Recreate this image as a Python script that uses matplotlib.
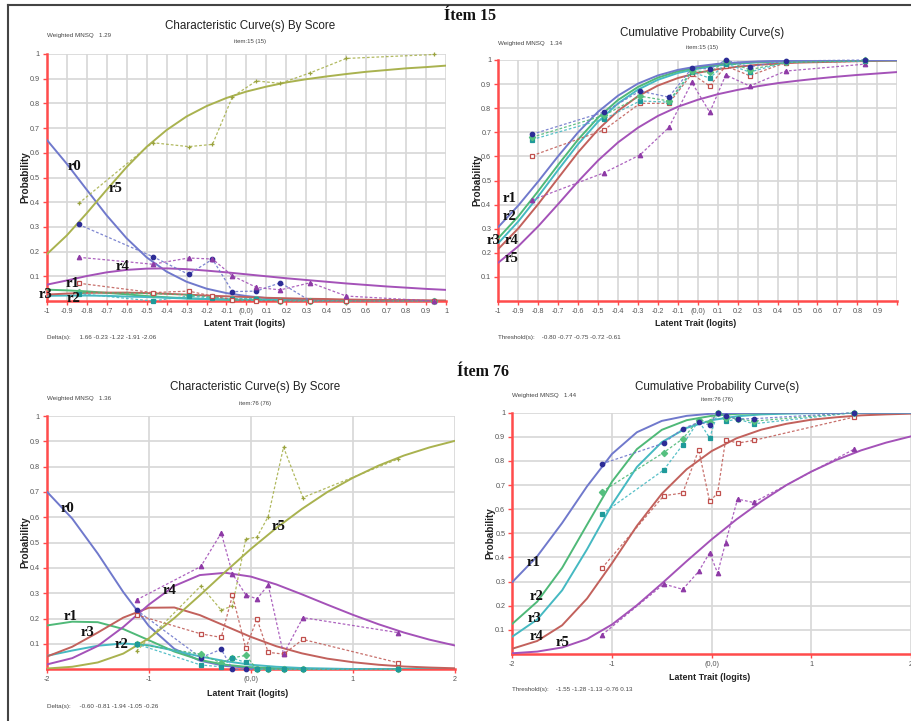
import matplotlib
matplotlib.use("Agg")
import matplotlib.pyplot as plt
from matplotlib.lines import Line2D

W, H = 912, 721
NARROW = ["Liberation Sans Narrow", "Liberation Sans", "DejaVu Sans"]
SERIF = ["Liberation Serif", "DejaVu Serif"]

# ---------------------------------------------------------------- data
# Item 15 : model curves on a 0.1-logit grid
theta15 = [-1.0, -0.9, -0.8, -0.7, -0.6, -0.5, -0.4, -0.3, -0.2, -0.1, 0.0,
           0.1, 0.2, 0.3, 0.4, 0.5, 0.6, 0.7, 0.8, 0.9, 1.0]
ccc15_r0 = [0.653, 0.556, 0.451, 0.347, 0.254, 0.177, 0.119, 0.078, 0.050, 0.032, 0.020,
            0.012, 0.008, 0.005, 0.003, 0.002, 0.001, 0.001, 0.000, 0.000, 0.000]
ccc15_r1 = [0.046, 0.043, 0.039, 0.033, 0.027, 0.020, 0.015, 0.011, 0.008, 0.005, 0.004,
            0.003, 0.002, 0.001, 0.001, 0.001, 0.000, 0.000, 0.000, 0.000, 0.000]
ccc15_r2 = [0.021, 0.022, 0.022, 0.021, 0.018, 0.016, 0.013, 0.010, 0.008, 0.006, 0.005,
            0.004, 0.003, 0.002, 0.002, 0.001, 0.001, 0.001, 0.000, 0.000, 0.000]
ccc15_r3 = [0.026, 0.030, 0.033, 0.034, 0.034, 0.032, 0.029, 0.026, 0.022, 0.019, 0.016,
            0.013, 0.011, 0.009, 0.008, 0.006, 0.005, 0.004, 0.004, 0.003, 0.002]
ccc15_r4 = [0.066, 0.083, 0.101, 0.116, 0.126, 0.131, 0.132, 0.129, 0.123, 0.116, 0.108,
            0.100, 0.092, 0.085, 0.078, 0.071, 0.065, 0.059, 0.054, 0.049, 0.045]
ccc15_r5 = [0.189, 0.265, 0.355, 0.450, 0.542, 0.624, 0.692, 0.747, 0.789, 0.822, 0.848,
            0.868, 0.885, 0.898, 0.909, 0.919, 0.928, 0.935, 0.942, 0.947, 0.953]

cum15_r1 = [0.307, 0.396, 0.496, 0.601, 0.700, 0.785, 0.852, 0.902, 0.936, 0.959, 0.974,
            0.984, 0.990, 0.994, 0.996, 0.998, 0.998, 0.999, 0.999, 1.000, 1.000]
cum15_r2 = [0.261, 0.351, 0.456, 0.565, 0.670, 0.761, 0.834, 0.888, 0.927, 0.953, 0.970,
            0.981, 0.988, 0.992, 0.995, 0.997, 0.998, 0.999, 0.999, 0.999, 0.999]
cum15_r3 = [0.240, 0.330, 0.434, 0.544, 0.651, 0.744, 0.820, 0.877, 0.918, 0.946, 0.964,
            0.977, 0.985, 0.990, 0.993, 0.995, 0.997, 0.998, 0.998, 0.999, 0.999]
cum15_r4 = [0.216, 0.301, 0.402, 0.510, 0.617, 0.711, 0.789, 0.850, 0.894, 0.925, 0.947,
            0.962, 0.972, 0.980, 0.985, 0.989, 0.991, 0.993, 0.995, 0.996, 0.997]
cum15_r5 = [0.159, 0.227, 0.310, 0.402, 0.496, 0.583, 0.658, 0.719, 0.768, 0.806, 0.835,
            0.858, 0.876, 0.891, 0.904, 0.914, 0.923, 0.931, 0.938, 0.944, 0.950]

# Item 15 : observed proportions
obs15_x = [-0.84, -0.47, -0.29, -0.17, -0.07, 0.05, 0.17, 0.32, 0.50, 0.94]
obs15_r0 = [0.310, 0.180, 0.108, 0.169, 0.038, 0.040, 0.074, 0.000, 0.000, 0.000]
obs15_r1 = [0.035, 0.030, 0.025, 0.015, 0.008, 0.008, 0.000, 0.000, 0.000, 0.000]
obs15_r2 = [0.030, 0.000, 0.020, 0.012, 0.010, 0.010, 0.000, 0.000, 0.000, 0.000]
obs15_r3 = [0.072, 0.034, 0.040, 0.020, 0.005, 0.000, 0.000, 0.000, 0.000, 0.000]
obs15_r4 = [0.177, 0.149, 0.174, 0.170, 0.102, 0.055, 0.045, 0.074, 0.020, 0.000]
obs15_r5 = [0.395, 0.641, 0.625, 0.634, 0.827, 0.891, 0.881, 0.924, 0.982, 0.998]

obsc15_x = [-0.83, -0.47, -0.29, -0.145, -0.03, 0.06, 0.14, 0.26, 0.44, 0.84]
obsc15_r1 = [0.692, 0.784, 0.871, 0.846, 0.966, 0.963, 1.000, 0.972, 0.996, 1.000]
obsc15_r2 = [0.680, 0.770, 0.850, 0.830, 0.955, 0.950, 0.995, 0.960, 0.990, 0.998]
obsc15_r3 = [0.670, 0.755, 0.830, 0.825, 0.950, 0.925, 0.985, 0.950, 0.990, 0.995]
obsc15_r4 = [0.603, 0.710, 0.820, 0.820, 0.942, 0.892, 0.975, 0.935, 0.989, 0.995]
obsc15_r5 = [0.419, 0.532, 0.606, 0.720, 0.907, 0.783, 0.938, 0.892, 0.954, 0.983]

# Item 76 : model curves on a 0.25-logit grid
theta76 = [-2.0, -1.75, -1.5, -1.25, -1.0, -0.75, -0.5, -0.25, 0.0,
           0.25, 0.5, 0.75, 1.0, 1.25, 1.5, 1.75, 2.0]
ccc76_r0 = [0.702, 0.595, 0.457, 0.305, 0.171, 0.081, 0.034, 0.013, 0.005,
            0.002, 0.000, 0.000, 0.000, 0.000, 0.000, 0.000, 0.000]
ccc76_r1 = [0.173, 0.188, 0.186, 0.159, 0.115, 0.070, 0.037, 0.018, 0.008,
            0.004, 0.001, 0.001, 0.000, 0.000, 0.000, 0.000, 0.000]
ccc76_r2 = [0.053, 0.074, 0.093, 0.102, 0.095, 0.074, 0.051, 0.032, 0.018,
            0.010, 0.005, 0.003, 0.001, 0.001, 0.000, 0.000, 0.000]
ccc76_r3 = [0.050, 0.089, 0.145, 0.204, 0.243, 0.244, 0.214, 0.171, 0.128,
            0.091, 0.063, 0.042, 0.028, 0.018, 0.011, 0.007, 0.004]
ccc76_r4 = [0.019, 0.044, 0.092, 0.167, 0.255, 0.329, 0.372, 0.381, 0.366,
            0.335, 0.296, 0.255, 0.215, 0.178, 0.145, 0.117, 0.094]
ccc76_r5 = [0.003, 0.010, 0.027, 0.062, 0.122, 0.202, 0.292, 0.385, 0.475,
            0.558, 0.633, 0.700, 0.756, 0.804, 0.844, 0.876, 0.902]

cum76_r1 = [0.298, 0.405, 0.543, 0.695, 0.829, 0.919, 0.966, 0.987, 0.996,
            0.999, 1.000, 1.000, 1.000, 1.000, 1.000, 1.000, 1.000]
cum76_r2 = [0.125, 0.217, 0.357, 0.536, 0.714, 0.849, 0.929, 0.969, 0.987,
            0.995, 0.998, 0.999, 1.000, 1.000, 1.000, 1.000, 1.000]
cum76_r3 = [0.072, 0.143, 0.264, 0.434, 0.619, 0.775, 0.878, 0.937, 0.969,
            0.985, 0.993, 0.996, 0.998, 0.999, 1.000, 1.000, 1.000]
cum76_r4 = [0.022, 0.054, 0.119, 0.230, 0.376, 0.531, 0.664, 0.766, 0.841,
            0.894, 0.930, 0.954, 0.971, 0.981, 0.989, 0.993, 0.996]
cum76_r5 = [0.003, 0.010, 0.027, 0.062, 0.122, 0.202, 0.292, 0.385, 0.475,
            0.558, 0.633, 0.700, 0.756, 0.804, 0.844, 0.876, 0.902]

# Item 76 : observed proportions
obs76_x = [-1.12, -0.49, -0.29, -0.18, -0.05, 0.06, 0.17, 0.32, 0.51, 1.44]
obs76_r0 = [0.234, 0.046, 0.079, 0.000, 0.000, 0.000, 0.000, 0.000, 0.000, 0.000]
obs76_r1 = [0.100, 0.060, 0.025, 0.045, 0.055, 0.000, 0.000, 0.000, 0.000, 0.000]
obs76_r2 = [0.100, 0.017, 0.010, 0.044, 0.027, 0.000, 0.000, 0.000, 0.000, 0.000]
obs76_r3 = [0.215, 0.140, 0.126, 0.292, 0.083, 0.199, 0.067, 0.060, 0.118, 0.026]
obs76_r4 = [0.274, 0.406, 0.538, 0.377, 0.294, 0.278, 0.333, 0.060, 0.204, 0.145]
obs76_r5 = [0.072, 0.329, 0.234, 0.250, 0.514, 0.522, 0.603, 0.877, 0.678, 0.830]

obsc76_x = [-1.10, -0.48, -0.29, -0.13, -0.02, 0.06, 0.14, 0.26, 0.42, 1.43]
obsc76_r1 = [0.788, 0.874, 0.934, 0.960, 0.950, 1.000, 0.985, 0.975, 0.975, 1.000]
obsc76_r2 = [0.673, 0.835, 0.892, 0.971, 0.960, 1.000, 0.980, 0.975, 0.965, 1.000]
obsc76_r3 = [0.580, 0.763, 0.867, 0.967, 0.895, 1.000, 0.964, 0.974, 0.954, 1.000]
obsc76_r4 = [0.356, 0.656, 0.667, 0.846, 0.632, 0.667, 0.888, 0.874, 0.885, 0.982]
obsc76_r5 = [0.079, 0.290, 0.268, 0.342, 0.420, 0.335, 0.462, 0.642, 0.628, 0.849]

prob_ticks = [0.1, 0.2, 0.3, 0.4, 0.5, 0.6, 0.7, 0.8, 0.9, 1.0]
prob_labels = ["0.1", "0.2", "0.3", "0.4", "0.5", "0.6", "0.7", "0.8", "0.9", "1"]
x15_ticks = [-1.0, -0.9, -0.8, -0.7, -0.6, -0.5, -0.4, -0.3, -0.2, -0.1, 0.0,
             0.1, 0.2, 0.3, 0.4, 0.5, 0.6, 0.7, 0.8, 0.9, 1.0]
x15_labels = ["-1", "-0.9", "-0.8", "-0.7", "-0.6", "-0.5", "-0.4", "-0.3", "-0.2", "-0.1",
              "(0,0)", "0.1", "0.2", "0.3", "0.4", "0.5", "0.6", "0.7", "0.8", "0.9", "1"]
x76_ticks = [-2, -1, 0, 1, 2]
x76_labels = ["-2", "-1", "(0,0)", "1", "2"]

# ---------------------------------------------------------------- style
C_BLUE, C_GREEN, C_CYAN = "#7079cc", "#4fb978", "#45b9c2"
C_RED, C_PURPLE, C_OLIVE = "#c2615c", "#a452b8", "#a9b24f"
M_BLUE, M_GREEN, M_CYAN = "#2c2c96", "#55c07f", "#1f9a9a"
M_RED, M_PURPLE, M_OLIVE = "#c0504d", "#8e3aa6", "#9aa33e"
AXIS_RED = "#ff4b4b"

fig = plt.figure(figsize=(W / 100, H / 100), dpi=100)
fig.patch.set_facecolor("white")


def px_axes(x0, x1, y_top, y_bot):
    return fig.add_axes([x0 / W, 1 - y_bot / H, (x1 - x0) / W, (y_bot - y_top) / H])


def ftext(x, y, s, **kw):
    fig.text(x / W, 1 - y / H, s, **kw)


def style(ax, xlim, xticks, xlabels):
    ax.set_xlim(*xlim)
    ax.set_ylim(0, 1)
    ax.set_xticks(xticks)
    ax.set_xticklabels(xlabels)
    ax.set_yticks(prob_ticks)
    ax.set_yticklabels(prob_labels)
    ax.grid(True, color="#d7d7d7", lw=1.2)
    ax.set_axisbelow(True)
    for side in ("top", "right"):
        ax.spines[side].set_visible(False)
    for side in ("left", "bottom"):
        ax.spines[side].set_color(AXIS_RED)
        ax.spines[side].set_linewidth(1.8)
    ax.tick_params(axis="both", colors=AXIS_RED, labelcolor="#555555", labelsize=5.2,
                   length=3, width=1, pad=2)
    for lab in ax.get_xticklabels() + ax.get_yticklabels():
        lab.set_family(NARROW)
    ax.set_facecolor("white")


def model(ax, x, y, c):
    ax.plot(x, y, color=c, lw=1.4, solid_capstyle="round", zorder=3)


def observed(ax, x, y, c, mc, marker, filled=True):
    ax.plot(x, y, color=c, lw=0.9, ls=(0, (2.2, 1.6)), alpha=0.9, zorder=4, clip_on=False)
    ax.plot(x, y, ls="none", marker=marker, ms=3.2, mec=mc,
            mfc=mc if filled else "white", mew=0.9, zorder=5, clip_on=False)


def r_label(x, y, s):
    ftext(x, y, s, family=SERIF, fontweight="bold", fontsize=10.5, ha="center",
          va="center", color="#111111", zorder=10)


def panel_text(cx, title_y, sub_y, sub, mnsq_x, mnsq_y, mnsq, title, prob_x, prob_y,
               xl_x, xl_y, foot_x, foot_y, foot):
    ftext(cx, title_y, title, family=NARROW, fontsize=8.4, ha="center", va="center",
          color="#222222")
    ftext(cx, sub_y, sub, family=NARROW, fontsize=4.3, ha="center", va="center",
          color="#444444")
    ftext(mnsq_x, mnsq_y, mnsq, family=NARROW, fontsize=4.5, ha="left", va="center",
          color="#444444")
    ftext(prob_x, prob_y, "Probability", family=["Liberation Sans", "DejaVu Sans"],
          fontsize=7.2, fontweight="bold", rotation=90, ha="center", va="center",
          color="#222222")
    ftext(xl_x, xl_y, "Latent Trait (logits)", family=NARROW, fontsize=6.4,
          fontweight="bold", ha="center", va="center", color="#222222")
    ftext(foot_x, foot_y, foot, family=NARROW, fontsize=4.5, ha="left", va="center",
          color="#444444")


# ---------------------------------------------------------------- panel 1
ax1 = px_axes(46.7, 446.2, 54, 301)
style(ax1, (-1, 1), x15_ticks, x15_labels)
model(ax1, theta15, ccc15_r0, C_BLUE)
model(ax1, theta15, ccc15_r1, C_GREEN)
model(ax1, theta15, ccc15_r2, C_CYAN)
model(ax1, theta15, ccc15_r3, C_RED)
model(ax1, theta15, ccc15_r4, C_PURPLE)
model(ax1, theta15, ccc15_r5, C_OLIVE)
observed(ax1, obs15_x, obs15_r0, C_BLUE, M_BLUE, "o")
observed(ax1, obs15_x, obs15_r1, C_GREEN, M_GREEN, "D")
observed(ax1, obs15_x, obs15_r2, C_CYAN, M_CYAN, "s")
observed(ax1, obs15_x, obs15_r3, C_RED, M_RED, "s", filled=False)
observed(ax1, obs15_x, obs15_r4, C_PURPLE, M_PURPLE, "^")
observed(ax1, obs15_x, obs15_r5, C_OLIVE, M_OLIVE, "+")
panel_text(250, 26, 41, "item:15 (15)", 47, 35.5, "Weighted MNSQ   1.29",
           "Characteristic Curve(s) By Score", 25, 177, 245, 324, 47, 338,
           "Delta(s):     1.66 -0.23 -1.22 -1.91 -2.06")

# ---------------------------------------------------------------- panel 2
ax2 = px_axes(498.3, 897.3, 60, 301)
style(ax2, (-1, 1), x15_ticks, x15_labels[:-1] + [""])
model(ax2, theta15, cum15_r5, C_PURPLE)
model(ax2, theta15, cum15_r4, C_RED)
model(ax2, theta15, cum15_r3, C_CYAN)
model(ax2, theta15, cum15_r2, C_GREEN)
model(ax2, theta15, cum15_r1, C_BLUE)
observed(ax2, obsc15_x, obsc15_r5, C_PURPLE, M_PURPLE, "^")
observed(ax2, obsc15_x, obsc15_r4, C_RED, M_RED, "s", filled=False)
observed(ax2, obsc15_x, obsc15_r3, C_CYAN, M_CYAN, "s")
observed(ax2, obsc15_x, obsc15_r2, C_GREEN, M_GREEN, "D")
observed(ax2, obsc15_x, obsc15_r1, C_BLUE, M_BLUE, "o")
panel_text(702, 33, 48, "item:15 (15)", 498, 43.5, "Weighted MNSQ   1.34",
           "Cumulative Probability Curve(s)", 477, 180, 696, 324, 498, 337,
           "Threshold(s):    -0.80 -0.77 -0.75 -0.72 -0.61")

# ---------------------------------------------------------------- panel 3
ax3 = px_axes(46.7, 455, 416, 669.3)
style(ax3, (-2, 2), x76_ticks, x76_labels)
model(ax3, theta76, ccc76_r0, C_BLUE)
model(ax3, theta76, ccc76_r1, C_GREEN)
model(ax3, theta76, ccc76_r2, C_CYAN)
model(ax3, theta76, ccc76_r3, C_RED)
model(ax3, theta76, ccc76_r4, C_PURPLE)
model(ax3, theta76, ccc76_r5, C_OLIVE)
observed(ax3, obs76_x, obs76_r0, C_BLUE, M_BLUE, "o")
observed(ax3, obs76_x, obs76_r1, C_GREEN, M_GREEN, "D")
observed(ax3, obs76_x, obs76_r2, C_CYAN, M_CYAN, "s")
observed(ax3, obs76_x, obs76_r3, C_RED, M_RED, "s", filled=False)
observed(ax3, obs76_x, obs76_r4, C_PURPLE, M_PURPLE, "^")
observed(ax3, obs76_x, obs76_r5, C_OLIVE, M_OLIVE, "+")
panel_text(255, 387, 403, "item:76 (76)", 47, 398.5, "Weighted MNSQ   1.36",
           "Characteristic Curve(s) By Score", 25, 542, 248, 693, 47, 706.5,
           "Delta(s):     -0.60 -0.81 -1.94 -1.05 -0.26")

# ---------------------------------------------------------------- panel 4
ax4 = px_axes(512.3, 911, 412.7, 654)
style(ax4, (-2, 2), x76_ticks, x76_labels)
model(ax4, theta76, cum76_r5, C_PURPLE)
model(ax4, theta76, cum76_r4, C_RED)
model(ax4, theta76, cum76_r3, C_CYAN)
model(ax4, theta76, cum76_r2, C_GREEN)
model(ax4, theta76, cum76_r1, C_BLUE)
observed(ax4, obsc76_x, obsc76_r5, C_PURPLE, M_PURPLE, "^")
observed(ax4, obsc76_x, obsc76_r4, C_RED, M_RED, "s", filled=False)
observed(ax4, obsc76_x, obsc76_r3, C_CYAN, M_CYAN, "s")
observed(ax4, obsc76_x, obsc76_r2, C_GREEN, M_GREEN, "D")
observed(ax4, obsc76_x, obsc76_r1, C_BLUE, M_BLUE, "o")
panel_text(717, 387, 400, "item:76 (76)", 512, 396, "Weighted MNSQ   1.44",
           "Cumulative Probability Curve(s)", 490, 533, 710, 677, 512, 689.5,
           "Threshold(s):    -1.55 -1.28 -1.13 -0.76 0.13")

# ---------------------------------------------------------------- labels
r_label(75, 167, "r0"); r_label(116, 189, "r5"); r_label(123, 266, "r4")
r_label(73, 283, "r1"); r_label(46, 294, "r3"); r_label(74, 298, "r2")

r_label(510, 199, "r1"); r_label(510, 217, "r2"); r_label(494, 240, "r3")
r_label(512, 240, "r4"); r_label(512, 258, "r5")

r_label(68, 509, "r0"); r_label(279, 526, "r5"); r_label(170, 591, "r4")
r_label(71, 617, "r1"); r_label(88, 632, "r3"); r_label(122, 644, "r2")

r_label(534, 562, "r1"); r_label(537, 596, "r2"); r_label(535, 618, "r3")
r_label(537, 637, "r4"); r_label(563, 642, "r5")

ftext(470, 16, "Ítem 15", family=SERIF, fontweight="bold", fontsize=11.5,
      ha="center", va="center", color="#111111")
ftext(483, 372, "Ítem 76", family=SERIF, fontweight="bold", fontsize=11.5,
      ha="center", va="center", color="#111111")

# outer frame
fig.add_artist(Line2D([8 / W, 8 / W], [0, 1 - 5 / H], color="#444444", lw=1.5))
fig.add_artist(Line2D([8 / W, 1], [1 - 5 / H, 1 - 5 / H], color="#444444", lw=1.5))

fig.savefig("out.png", dpi=100)
